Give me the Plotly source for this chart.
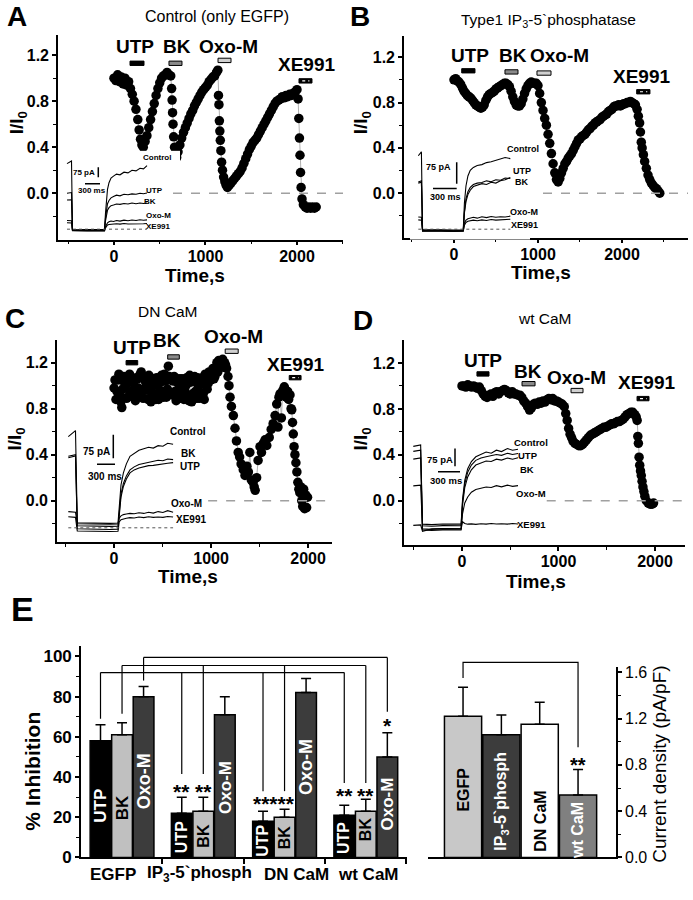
import plotly.graph_objects as go

W, H = 693, 900
FONT = "Arial, Liberation Sans, Helvetica, sans-serif"

# ---------------- Time-course data (time s, I/I0) ----------------
A_t = [0, 20, 40, 60, 80, 100, 120, 140, 160, 180, 200, 220, 240, 260, 275, 290, 305, 320, 340, 360,
       380, 400, 420, 440, 460, 480, 500, 520, 540, 560, 580, 600, 620, 630, 635, 640, 645, 652, 662, 672,
       685, 700, 720, 740, 760, 780, 800, 820, 840, 860, 880, 900, 920, 940, 960, 980, 1000, 1020, 1040, 1060,
       1080, 1100, 1120, 1135, 1142, 1147, 1152, 1157, 1162, 1168, 1176, 1186, 1198, 1212, 1226, 1240, 1260, 1280, 1300, 1320,
       1340, 1360, 1380, 1400, 1420, 1440, 1460, 1480, 1500, 1520, 1540, 1560, 1580, 1600, 1620, 1640, 1660, 1680, 1700, 1720,
       1740, 1760, 1780, 1800, 1820, 1840, 1860, 1880, 1900, 1920, 1940, 1960, 1980, 2000, 2012, 2020, 2027, 2033, 2039, 2045,
       2055, 2070, 2090, 2110, 2130, 2150, 2170, 2190, 2210]
A_v = [1.00, 0.98, 1.03, 0.97, 1.01, 0.95, 1.00, 0.94, 0.97, 0.91, 0.86, 0.80, 0.73, 0.64, 0.55, 0.47, 0.42, 0.40, 0.45, 0.50,
       0.57, 0.64, 0.71, 0.78, 0.85, 0.91, 0.96, 1.00, 1.02, 1.03, 1.05, 1.03, 1.02, 0.91, 0.81, 0.70, 0.60, 0.49, 0.40, 0.35,
       0.31, 0.36, 0.42, 0.48, 0.53, 0.57, 0.61, 0.65, 0.69, 0.72, 0.76, 0.79, 0.82, 0.85, 0.88, 0.90, 0.92, 0.94, 0.97, 0.99,
       1.01, 1.02, 1.05, 1.07, 0.85, 0.77, 0.63, 0.54, 0.46, 0.37, 0.27, 0.20, 0.14, 0.10, 0.07, 0.05, 0.07, 0.09, 0.11, 0.13,
       0.15, 0.17, 0.19, 0.22, 0.26, 0.30, 0.34, 0.38, 0.41, 0.44, 0.46, 0.48, 0.51, 0.54, 0.57, 0.60, 0.63, 0.66, 0.69, 0.72,
       0.75, 0.78, 0.80, 0.81, 0.82, 0.84, 0.83, 0.85, 0.84, 0.86, 0.85, 0.87, 0.88, 0.90, 0.82, 0.65, 0.48, 0.33, 0.18, 0.05,
       -0.05, -0.10, -0.12, -0.13, -0.12, -0.13, -0.12, -0.13, -0.12]

B_t = [0, 20, 40, 60, 80, 100, 120, 140, 160, 180, 200, 220, 240, 260, 280, 300, 320, 340, 360, 380,
       400, 420, 440, 460, 480, 500, 520, 540, 560, 580, 600, 620, 640, 660, 680, 700, 720, 740, 760, 780,
       800, 820, 840, 860, 880, 900, 920, 940, 960, 980, 1000, 1020, 1040, 1060, 1080, 1100, 1120, 1140, 1160, 1180,
       1200, 1220, 1240, 1260, 1280, 1300, 1320, 1340, 1360, 1380, 1400, 1420, 1440, 1460, 1480, 1500, 1520, 1540, 1560, 1580,
       1600, 1620, 1640, 1660, 1680, 1700, 1720, 1740, 1760, 1780, 1800, 1820, 1840, 1860, 1880, 1900, 1920, 1940, 1960, 1980,
       2000, 2020, 2040, 2060, 2080, 2100, 2120, 2140, 2160, 2180, 2195, 2210, 2220, 2230, 2240, 2255, 2270, 2290, 2310, 2330,
       2350, 2370, 2390, 2410, 2430, 2450]
B_v = [1.00, 1.01, 0.99, 0.98, 0.96, 0.93, 0.90, 0.88, 0.86, 0.85, 0.84, 0.82, 0.80, 0.78, 0.77, 0.76, 0.75, 0.76, 0.78, 0.82,
       0.85, 0.87, 0.88, 0.89, 0.90, 0.92, 0.93, 0.94, 0.95, 0.96, 0.97, 0.97, 0.96, 0.94, 0.90, 0.85, 0.81, 0.78, 0.77, 0.77,
       0.79, 0.83, 0.88, 0.92, 0.95, 0.97, 0.98, 0.97, 0.97, 0.97, 0.95, 0.88, 0.80, 0.73, 0.66, 0.60, 0.52, 0.44, 0.35, 0.26,
       0.18, 0.12, 0.10, 0.13, 0.18, 0.22, 0.26, 0.28, 0.31, 0.33, 0.35, 0.38, 0.41, 0.44, 0.47, 0.48, 0.50, 0.51, 0.52, 0.54,
       0.56, 0.57, 0.59, 0.60, 0.62, 0.63, 0.64, 0.65, 0.67, 0.68, 0.69, 0.70, 0.72, 0.73, 0.74, 0.76, 0.77, 0.77, 0.78, 0.77,
       0.78, 0.79, 0.79, 0.80, 0.80, 0.81, 0.80, 0.79, 0.78, 0.74, 0.68, 0.62, 0.54, 0.45, 0.40, 0.34, 0.28, 0.22, 0.16, 0.12,
       0.09, 0.07, 0.05, 0.04, 0.02, 0.00]

C_t = list(range(0, 1170, 10)) + [
       1175, 1185, 1196, 1210, 1230, 1247, 1262, 1280, 1295, 1310, 1332, 1350, 1370, 1385, 1400, 1415, 1433, 1445, 1455, 1470,
       1485, 1505, 1520, 1540, 1557, 1575, 1600, 1620, 1640, 1660, 1677, 1690, 1700, 1711, 1725, 1740, 1755, 1763, 1775, 1790,
       1800, 1814, 1825, 1832, 1840, 1848, 1856, 1865, 1875, 1885, 1895, 1905, 1915, 1925, 1935, 1945, 1955, 1965, 1975, 1985,
       1995]
C_v = [0.98, 1.05, 0.88, 0.95, 1.05, 1.10, 0.92, 0.86, 0.81, 0.97, 1.08, 1.02, 1.00, 0.89, 0.90, 1.06, 1.10, 0.94, 0.95, 1.03,
       1.02, 0.91, 0.87, 1.07, 1.06, 0.98, 0.93, 1.10, 1.12, 0.95, 0.89, 0.97, 1.04, 1.08, 0.96, 0.88, 1.09, 1.01, 0.86, 0.94,
       1.00, 1.06, 0.92, 0.88, 1.07, 1.01, 0.88, 0.96, 1.03, 1.09, 0.95, 0.90, 1.10, 1.04, 0.90, 0.97, 1.17, 1.08, 1.05, 0.93,
       0.92, 1.04, 1.08, 0.95, 0.87, 0.91, 1.02, 1.06, 0.94, 0.89, 1.06, 1.00, 0.88, 0.95, 1.00, 1.07, 0.91, 0.87, 1.09, 1.03,
       0.86, 0.93, 1.04, 1.08, 0.95, 0.89, 1.07, 0.99, 0.89, 0.94, 1.02, 1.07, 0.93, 0.88, 1.10, 1.04, 0.97, 1.02, 1.12, 1.08,
       1.05, 1.10, 1.15, 1.06, 1.08, 1.14, 1.20, 1.12, 1.22, 1.18, 1.17, 1.21, 1.23, 1.16, 1.20, 1.18, 1.15,
       1.08, 1.00, 0.90, 0.82, 0.74, 0.63, 0.52, 0.42, 0.38, 0.32, 0.27, 0.22, 0.30, 0.25, 0.42, 0.18, 0.16, 0.12, 0.09, 0.20,
       0.35, 0.47, 0.42, 0.50, 0.53, 0.48, 0.55, 0.62, 0.67, 0.74, 0.84, 0.64, 0.90, 0.93, 0.72, 0.96, 0.99, 0.97, 0.90, 0.95,
       0.88, 0.92, 0.80, 0.79, 0.68, 0.58, 0.47, 0.40, 0.33, 0.25, 0.16, 0.10, 0.07, 0.12, 0.00, -0.05, 0.10, -0.07, 0.05, -0.06,
       0.03]

D_t = [0, 20, 40, 60, 80, 100, 120, 140, 160, 180, 200, 220, 240, 260, 280, 300, 320, 340, 360, 380,
       400, 420, 440, 460, 480, 500, 520, 540, 560, 580, 600, 620, 640, 660, 680, 700, 720, 740, 760, 780,
       800, 820, 840, 860, 880, 900, 920, 940, 960, 980, 1000, 1020, 1040, 1060, 1075, 1090, 1105, 1120, 1135, 1150,
       1170, 1190, 1210, 1230, 1250, 1270, 1290, 1310, 1330, 1350, 1370, 1390, 1410, 1430, 1450, 1470, 1490, 1510, 1530, 1550,
       1570, 1590, 1610, 1630, 1650, 1670, 1690, 1710, 1730, 1750, 1770, 1790, 1805, 1815, 1822, 1828, 1835, 1842, 1850, 1858,
       1866, 1875, 1885, 1895, 1910, 1930, 1950, 1970, 1985]
D_v = [1.00, 1.00, 0.99, 1.01, 1.00, 0.99, 1.00, 0.99, 0.98, 0.99, 0.96, 0.93, 0.91, 0.90, 0.92, 0.93, 0.91, 0.94, 0.95, 0.93,
       0.95, 0.96, 0.97, 0.96, 0.94, 0.93, 0.95, 0.93, 0.93, 0.92, 0.92, 0.90, 0.87, 0.85, 0.82, 0.79, 0.81, 0.84, 0.85, 0.84,
       0.86, 0.85, 0.87, 0.86, 0.88, 0.89, 0.88, 0.89, 0.87, 0.87, 0.86, 0.85, 0.84, 0.82, 0.76, 0.70, 0.63, 0.58, 0.55, 0.52,
       0.50, 0.49, 0.48, 0.48, 0.49, 0.51, 0.53, 0.55, 0.57, 0.58, 0.59, 0.60, 0.61, 0.62, 0.63, 0.64, 0.64, 0.65, 0.66, 0.67,
       0.67, 0.68, 0.69, 0.69, 0.70, 0.71, 0.73, 0.75, 0.76, 0.77, 0.77, 0.75, 0.73, 0.70, 0.56, 0.50, 0.38, 0.31, 0.26, 0.22,
       0.17, 0.12, 0.08, 0.04, 0.00, -0.02, -0.03, -0.03, -0.02]

# drug applications (start s, end s)
drug_names = ["UTP", "BK", "Oxo-M", "XE991"]
A_drugs = [(175, 328), (601, 743), (1137, 1279), (2022, 2164)]
B_drugs = [(92, 250), (607, 762), (988, 1155), (2175, 2333)]
C_drugs = [(124, 244), (553, 673), (1146, 1280), (1806, 1928)]
D_drugs = [(155, 280), (622, 757), (1130, 1254), (1814, 1938)]

# ---------------- Inset current traces (ms, pA) ----------------
trace_names = ["Control", "UTP", "BK", "Oxo-M", "XE991"]
A_ms = [0, 90, 110, 200, 400, 600, 750, 770, 790, 810, 840, 880, 930, 990, 1060, 1140, 1220, 1300, 1380, 1460, 1530, 1600]
A_ins = {
    "Control": [495, 515, -5, -8, -6, -9, -7, 120, 230, 300, 350, 385, 400, 415, 410, 430, 425, 445, 440, 460, 455, 480],
    "UTP": [270, 275, -10, -12, -9, -11, -10, 80, 150, 190, 215, 235, 245, 255, 250, 262, 258, 265, 262, 270, 266, 272],
    "BK": [218, 220, -12, -14, -12, -13, -12, 60, 110, 140, 160, 175, 180, 188, 185, 192, 188, 195, 190, 196, 192, 195],
    "Oxo-M": [62, 60, -14, -16, -15, -16, -15, 15, 35, 45, 52, 58, 55, 62, 58, 65, 60, 66, 62, 68, 64, 67],
    "XE991": [45, 44, -16, -18, -17, -18, -17, 5, 20, 28, 32, 35, 33, 38, 35, 40, 36, 38, 37, 40, 38, 39],
}
B_ms = [0, 40, 55, 150, 300, 450, 580, 595, 615, 640, 670, 710, 760, 820, 880, 940, 1000, 1060, 1120, 1187]
B_ins = {
    "Control": [256, 270, -4, -5, -4, -5, -4, 90, 150, 185, 205, 215, 222, 225, 232, 235, 240, 245, 250, 246],
    "UTP": [164, 168, -6, -7, -6, -7, -6, 60, 105, 130, 145, 155, 160, 162, 168, 165, 172, 170, 178, 176],
    "BK": [160, 163, -7, -8, -7, -8, -7, 55, 95, 120, 135, 148, 152, 158, 155, 163, 160, 168, 172, 180],
    "Oxo-M": [41, 40, -8, -9, -8, -9, -8, 20, 30, 35, 38, 40, 37, 42, 39, 43, 40, 42, 41, 44],
    "XE991": [31, 30, -9, -10, -9, -10, -9, 12, 22, 26, 28, 30, 28, 31, 29, 32, 30, 31, 30, 33],
}
C_ms = [0, 120, 150, 300, 500, 700, 830, 850, 880, 920, 970, 1030, 1100, 1180, 1260, 1340, 1420, 1500, 1580, 1660, 1750]
C_ins = {
    "Control": [300, 320, 15, 14, 15, 13, 14, 80, 140, 180, 210, 235, 245, 255, 260, 265, 262, 270, 268, 278, 275],
    "BK": [235, 240, 5, 4, 5, 3, 4, 60, 110, 145, 170, 190, 200, 208, 212, 215, 218, 222, 220, 226, 224],
    "UTP": [230, 236, -5, -6, -5, -7, -6, 50, 100, 135, 160, 180, 190, 196, 200, 204, 205, 208, 210, 212, 214],
    "Oxo-M": [52, 50, 12, 11, 12, 10, 11, 30, 38, 42, 44, 46, 45, 48, 46, 50, 47, 52, 49, 55, 50],
    "XE991": [35, 33, -12, -13, -12, -14, -13, 18, 25, 28, 30, 32, 31, 34, 32, 35, 33, 34, 33, 36, 34],
}
D_ms = [0, 100, 125, 250, 400, 550, 650, 670, 700, 740, 790, 850, 920, 990, 1060, 1130, 1200, 1280, 1350, 1424]
D_ins = {
    "Control": [334, 340, 5, 3, 6, 4, 5, 110, 190, 240, 270, 290, 300, 310, 305, 318, 312, 325, 318, 322],
    "UTP": [313, 318, -2, -4, -1, -3, -2, 100, 175, 225, 255, 275, 285, 290, 295, 300, 296, 305, 300, 304],
    "BK": [280, 285, -20, -22, -19, -21, -20, 85, 160, 205, 235, 255, 265, 272, 270, 280, 276, 285, 280, 286],
    "Oxo-M": [167, 170, -15, -17, -14, -16, -15, 50, 95, 120, 140, 152, 158, 162, 160, 168, 163, 170, 165, 168],
    "XE991": [0, 2, -25, -15, -14, -16, -15, 15, 8, 5, 6, 4, 7, 5, 8, 6, 7, 5, 8, 6],
}

# ---------------- Panel E data ----------------
groups = ["EGFP", "IP<sub>3</sub>-5`phosph", "DN CaM", "wt CaM"]
inh_UTP = [58, 22, 18, 21]
inh_UTP_err = [8, 8, 5, 5]
inh_BK = [61, 23, 20, 23]
inh_BK_err = [6, 7, 4, 6]
inh_Oxo = [80, 71, 82, 50]
inh_Oxo_err = [5, 9, 7, 12]

dens_groups = ["EGFP", "IP<sub>3</sub>-5`phosph", "DN CaM", "wt CaM"]
dens = [1.22, 1.06, 1.15, 0.54]
dens_err = [0.25, 0.17, 0.19, 0.22]

# ================= build figure =================
fig = go.Figure()
shapes, anns = [], []
axgeom = {}


def dx(p0, p1):
    return [p0 / W, p1 / W]


def dy(top, bot):
    return [1 - bot / H, 1 - top / H]


def to_paper(k, x, y):
    (xd0, xd1), (xr0, xr1), (yd0, yd1), (yr0, yr1) = axgeom[k]
    return (xd0 + (x - xr0) / (xr1 - xr0) * (xd1 - xd0), yd0 + (y - yr0) / (yr1 - yr0) * (yd1 - yd0))


def ann(px, py, text, size, bold=True, angle=0, color="black", xanchor="center"):
    anns.append(dict(x=px / W, y=1 - py / H, xref="paper", yref="paper", text=text, showarrow=False,
                     textangle=angle, xanchor=xanchor, yanchor="middle",
                     font=dict(size=size, color=color, family=FONT, weight="bold" if bold else "normal")))


def dann(k, x, y, text, size, bold=True, angle=0, color="black"):
    px, py = to_paper(k, x, y)
    anns.append(dict(x=px, y=py, xref="paper", yref="paper", text=text, showarrow=False, textangle=angle,
                     xanchor="center", yanchor="middle",
                     font=dict(size=size, color=color, family=FONT, weight="bold" if bold else "normal")))


def dpath(k, xs, ys, width=1.2):
    pts = [to_paper(k, x, y) for x, y in zip(xs, ys)]
    path = "M " + " L ".join(f"{a:.5f},{b:.5f}" for a, b in pts)
    shapes.append(dict(type="path", xref="paper", yref="paper", path=path, line=dict(color="black", width=width)))


axis_common = dict(showline=True, linecolor="black", linewidth=1.6, ticks="outside", ticklen=4, tickwidth=1.5,
                   tickcolor="black", showgrid=False, zeroline=False,
                   tickfont=dict(size=16, family=FONT, color="black", weight="bold"))

panels = [
    dict(k="", xd=(58, 343), xr=(-612, 2503), yd=(32, 240), yr=(-0.403, 1.38), t=A_t, v=A_v, drugs=A_drugs,
         bary=[1.13, 1.13, 1.155, 0.977],
         lab=[(230, 1.28), (685, 1.28), (1250, 1.28), (2107, 1.12)], z0=645),
    dict(k="2", xd=(404, 688), xr=(-595, 2786), yd=(33, 238), yr=(-0.391, 1.391), t=B_t, v=B_v, drugs=B_drugs,
         bary=[1.08, 1.07, 1.06, 0.895],
         lab=[(190, 1.215), (700, 1.215), (1262, 1.215), (2238, 1.03)], z0=1060),
    dict(k="3", xd=(57, 332), xr=(-588, 2247), yd=(342, 547), yr=(-0.36, 1.397), t=C_t, v=C_v, drugs=C_drugs,
         bary=[1.2, 1.25, 1.30, 1.07],
         lab=[(182, 1.33), (543, 1.39), (1230, 1.43), (1866, 1.185)], z0=970),
    dict(k="4", xd=(404, 685), xr=(-601, 2311), yd=(342, 550), yr=(-0.386, 1.40), t=D_t, v=D_v, drugs=D_drugs,
         bary=[1.105, 1.02, 0.96, 0.89],
         lab=[(218, 1.22), (680, 1.13), (1188, 1.07), (1914, 1.03)], z0=878),
]

drug_fill = ["black", "#8a8a8a", "#d0d0d0", "black"]
layout_axes = {}
for p in panels:
    k = p["k"]
    xa, ya = "x" + k, "y" + k
    axgeom[k] = (dx(*p["xd"]), p["xr"], dy(*p["yd"]), p["yr"])
    layout_axes["xaxis" + k] = dict(axis_common, domain=dx(*p["xd"]), range=list(p["xr"]), anchor=ya,
                                    tickvals=[0, 1000, 2000], ticktext=["0", "1000", "2000"],
                                    ticklabelstandoff=-3,
                                    minor=dict(tickvals=[-500, 500, 1500, 2500], ticklen=3, tickwidth=1.2,
                                               tickcolor="black", ticks="outside"))
    layout_axes["yaxis" + k] = dict(axis_common, domain=dy(*p["yd"]), range=list(p["yr"]), anchor=xa,
                                    tickvals=[0, 0.4, 0.8, 1.2], ticktext=["0.0", "0.4", "0.8", "1.2"],
                                    minor=dict(tickvals=[-0.2, 0.2, 0.6, 1.0], ticklen=3, tickwidth=1.2,
                                               tickcolor="black", ticks="outside"))
    shapes.append(dict(type="line", xref=xa, yref=ya, x0=p["z0"], x1=p["xr"][1], y0=0, y1=0,
                       line=dict(color="#a0a0a0", width=1.6, dash="dash")))
    fig.add_trace(go.Scatter(x=p["t"], y=p["v"], xaxis=xa, yaxis=ya, mode="lines+markers",
                             line=dict(color="#b0b0b0", width=1),
                             marker=dict(color="black", size=9.5, line=dict(width=0)),
                             showlegend=False, hoverinfo="skip"))
    for i, (name, (s0, s1)) in enumerate(zip(drug_names, p["drugs"])):
        yb = p["bary"][i]
        shapes.append(dict(type="rect", xref=xa, yref=ya, x0=s0, x1=s1, y0=yb - 0.019, y1=yb + 0.019,
                           fillcolor=drug_fill[i], line=dict(color="black", width=1)))
        if name == "XE991":
            shapes.append(dict(type="line", xref=xa, yref=ya, x0=s0 + (s1 - s0) * 0.25, x1=s1 - (s1 - s0) * 0.2,
                               y0=yb, y1=yb, line=dict(color="white", width=1.2, dash="dot")))
        lx, ly = p["lab"][i]
        dann(k, lx, ly, name, 19)

# ---- insets ----
insets = [
    dict(k="7", ms=A_ms, tr=A_ins, start=67, mspp=20.0, zero=229, papp=7.5, box=(60, 150, 180, 240),
         dotted=True, scale=dict(v=(98.3, 166.7, 176.7), h=(85, 100, 183.3), l75=(84, 171.7), l300=(91.5, 190.5)),
         fs=8, labels=[("Control", 157, 157), ("UTP", 154, 190), ("BK", 150, 201), ("Oxo-M", 158, 216),
                       ("XE991", 158, 227)]),
    dict(k="8", ms=B_ms, tr=B_ins, start=418.3, mspp=12.9, zero=229, papp=3.46, box=(410, 140, 530, 240),
         dotted=True, scale=dict(v=(456.7, 161.7, 183.3), h=(433, 456.7, 188.3), l75=(438, 166), l300=(445, 197)),
         fs=9, labels=[("Control", 523, 148), ("UTP", 522, 170), ("BK", 522, 182), ("Oxo-M", 524, 212),
                       ("XE991", 524, 225)]),
    dict(k="9", ms=C_ms, tr=C_ins, start=68.3, mspp=16.7, zero=532, papp=3.26, box=(60, 425, 185, 545),
         dotted=True, scale=dict(v=(113.3, 438, 462), h=(97, 115, 468), l75=(96, 455), l300=(105, 480)),
         fs=10, labels=[("Control", 188, 435), ("BK", 188, 457), ("UTP", 190, 470), ("Oxo-M", 186, 508),
                        ("XE991", 191, 524)]),
    dict(k="10", ms=D_ms, tr=D_ins, start=413.3, mspp=13.6, zero=530, papp=4.17, box=(405, 435, 525, 548),
         dotted=False, scale=dict(v=(455, 452, 470), h=(438, 460, 475.7), l75=(440, 463), l300=(446, 485)),
         fs=9.5, labels=[("Control", 531, 446), ("UTP", 528, 459), ("BK", 527, 473), ("Oxo-M", 531, 498),
                         ("XE991", 531, 529)]),
]
for q in insets:
    k = q["k"]
    xa, ya = "x" + k, "y" + k
    bx0, by0, bx1, by1 = q["box"]
    xr = [(bx0 - q["start"]) * q["mspp"], (bx1 - q["start"]) * q["mspp"]]
    yr = [(q["zero"] - by1) * q["papp"], (q["zero"] - by0) * q["papp"]]
    layout_axes["xaxis" + k] = dict(domain=dx(bx0, bx1), range=xr, visible=False, anchor=ya)
    layout_axes["yaxis" + k] = dict(domain=dy(by0, by1), range=yr, visible=False, anchor=xa)

    def tx(px):
        return (px - q["start"]) * q["mspp"]

    def ty(py):
        return (q["zero"] - py) * q["papp"]

    for name in trace_names:
        fig.add_trace(go.Scatter(x=q["ms"], y=q["tr"][name], xaxis=xa, yaxis=ya, mode="lines",
                                 line=dict(color="black", width=1.1), showlegend=False, hoverinfo="skip"))
    if q["dotted"]:
        shapes.append(dict(type="line", xref=xa, yref=ya, x0=0, x1=q["ms"][-1], y0=ty(q["zero"] + 0.5),
                           y1=ty(q["zero"] + 0.5), line=dict(color="#555555", width=1, dash="dot")))
    sv, sh = q["scale"]["v"], q["scale"]["h"]
    shapes.append(dict(type="line", xref=xa, yref=ya, x0=tx(sv[0]), x1=tx(sv[0]), y0=ty(sv[2]), y1=ty(sv[1]),
                       line=dict(color="black", width=1.5)))
    shapes.append(dict(type="line", xref=xa, yref=ya, x0=tx(sh[0]), x1=tx(sh[1]), y0=ty(sh[2]), y1=ty(sh[2]),
                       line=dict(color="black", width=1.5)))
    ann(*q["scale"]["l75"], "75 pA", q["fs"])
    ann(*q["scale"]["l300"], "300 ms", q["fs"])
    for name, lx, ly in q["labels"]:
        ann(lx, ly, name, q["fs"])

# ---- Panel E left: % inhibition ----
axgeom["5"] = (dx(81, 407), (0, 4.012), dy(652, 867), (0, 105.4))
offs = [-0.265, 0.0, 0.265]
series = [(inh_UTP, inh_UTP_err, "black"), (inh_BK, inh_BK_err, "#c0c0c0"), (inh_Oxo, inh_Oxo_err, "#3c3c3c")]
bar_x = []
for si, (vals, errs, col) in enumerate(series):
    xs = [g + 0.505 + offs[si] for g in range(len(groups))]
    bar_x.append(xs)
    fig.add_trace(go.Bar(x=xs, y=vals, width=0.255, xaxis="x5", yaxis="y5", marker=dict(color=col,
                         line=dict(color="black", width=1.5)),
                         error_y=dict(type="data", symmetric=False, array=errs, arrayminus=[0] * len(errs),
                                      color="black", thickness=1.5, width=5),
                         showlegend=False, hoverinfo="skip"))
layout_axes["xaxis5"] = dict(axis_common, domain=dx(81, 407), range=[0, 4.012], anchor="y5",
                             tickvals=[1, 2, 3, 4], showticklabels=False, ticklen=5)
layout_axes["yaxis5"] = dict(axis_common, domain=dy(652, 867), range=[0, 105.4], anchor="x5",
                             tickvals=[0, 20, 40, 60, 80, 100], tickfont=dict(size=17, family=FONT, weight="bold"),
                             minor=dict(tickvals=[10, 30, 50, 70, 90], ticklen=3, tickwidth=1.2, tickcolor="black",
                                        ticks="outside"))
for g, (name, px) in enumerate(zip(groups, [113, 199, 296, 368])):
    ann(px, 884, name, 17)
lab_y = [[25.5, 10, 8.3, 9.8], [24.5, 11, 9.8, 14], [37.7, 35, 45, 26.5]]
lab_txt = ["UTP", "BK", "Oxo-M"]
lab_col = ["white", "black", "white"]
lab_size = [[17, 16, 16, 16], [17, 16, 16, 16], [18, 17, 18, 17]]
for si in range(3):
    for g in range(4):
        dann("5", bar_x[si][g], lab_y[si][g], lab_txt[si], lab_size[si][g], angle=-90, color=lab_col[si])
brackets = [
    (0, 92.0, [(0, 69), (1, 41.5), (2, 33), (3, 37)]),
    (1, 95.5, [(0, 71.5), (1, 41.5), (2, 33), (3, 37)]),
    (2, 99.5, [(0, 88), (3, 72.5)]),
]
for si, hgt, ends in brackets:
    dpath("5", [bar_x[si][ends[0][0]], bar_x[si][ends[-1][0]]], [hgt, hgt])
    for g, ey in ends:
        dpath("5", [bar_x[si][g], bar_x[si][g]], [hgt, ey])
stars = [(bar_x[0][1], 33, "**"), (bar_x[1][1], 33, "**"), ((bar_x[0][2] + bar_x[1][2]) / 2, 27, "*****"),
         (bar_x[0][3], 31, "**"), (bar_x[1][3], 31, "**"), (bar_x[2][3], 65.5, "*")]
for sx, sy, st in stars:
    dann("5", sx, sy, st, 21)

# ---- Panel E right: current density ----
axgeom["6"] = (dx(428, 616), (0.086, 4.99), dy(674, 867), (0, 1.643))
xs_d = [1, 2, 3, 4]
fig.add_trace(go.Bar(x=xs_d, y=dens, width=0.97, xaxis="x6", yaxis="y6",
                     marker=dict(color=["#c8c8c8", "#3c3c3c", "#ffffff", "#808080"],
                                 line=dict(color="black", width=1.5)),
                     error_y=dict(type="data", symmetric=False, array=dens_err, arrayminus=[0] * 4,
                                  color="black", thickness=1.5, width=5),
                     showlegend=False, hoverinfo="skip"))
layout_axes["xaxis6"] = dict(showline=True, linecolor="black", linewidth=1.6, showgrid=False, zeroline=False,
                             domain=dx(428, 616), range=[0.086, 4.99], anchor="y6", showticklabels=False,
                             ticks="")
layout_axes["yaxis6"] = dict(axis_common, domain=dy(674, 867), range=[0, 1.643], anchor="x6", side="right",
                             tickvals=[0, 0.4, 0.8, 1.2, 1.6], ticktext=["0.0", "0.4", "0.8", "1.2", "1.6"],
                             tickfont=dict(size=16, family=FONT, color="black", weight="normal"),
                             minor=dict(tickvals=[0.2, 0.6, 1.0, 1.4], ticklen=3, tickwidth=1.2, tickcolor="black",
                                        ticks="outside"))
dlab_y = [0.587, 0.485, 0.315, 0.23]
dlab_col = ["black", "white", "black", "white"]
for i in range(4):
    dann("6", xs_d[i], dlab_y[i], dens_groups[i], 16, bold=True, angle=-90, color=dlab_col[i])
dpath("6", [1, 1, 4, 4], [1.55, 1.685, 1.685, 0.953])
dann("6", 4, 0.80, "**", 20)

# ---- titles, letters, axis titles ----
ann(17, 14, "A", 28)
ann(360, 14, "B", 28)
ann(15, 320, "C", 28)
ann(363, 322, "D", 28)
ann(22, 615, "E", 34)
ann(217, 14, "Control (only EGFP)", 16, bold=False)
ann(548, 18, "Type1 IP<sub>3</sub>-5`phosphatase", 15.5, bold=False)
ann(167, 313, "DN CaM", 15.5, bold=False)
ann(545, 320, "wt CaM", 15.5, bold=False)
for (px, py) in [(18, 122), (362, 122), (16, 443), (362, 443)]:
    ann(px, py, "I/I<sub>0</sub>", 19, angle=-90)
for (px, py) in [(195, 277), (541, 273), (188, 582), (536, 587)]:
    ann(px, py, "Time,s", 19)
ann(33, 780, "% Inhibition", 21, angle=-90)
ann(660, 773, "Current density (pA/pF)", 19, bold=False, angle=-90)

fig.update_layout(width=W, height=H, margin=dict(l=0, r=0, t=0, b=0), plot_bgcolor="white",
                  paper_bgcolor="white", showlegend=False, shapes=shapes, annotations=anns,
                  font=dict(family=FONT, color="black"), **layout_axes)
fig.write_html("out.html", config={"displayModeBar": False},
               post_script="document.body.style.margin='0px';document.body.style.overflow='hidden';")
